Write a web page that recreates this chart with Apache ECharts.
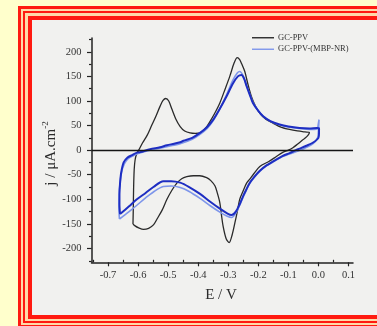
<!DOCTYPE html>
<html>
<head>
<meta charset="utf-8">
<script src="https://cdn.jsdelivr.net/npm/echarts@6/dist/echarts.min.js"></script>
<style>
html,body{margin:0;padding:0;background:#FFFFCC;overflow:hidden;}
#wrap{position:relative;width:377px;height:326px;overflow:hidden;}
.b{position:absolute;}
#c{position:absolute;left:0;top:0;width:377px;height:326px;}
</style>
</head>
<body>
<div id="wrap">
  <div class="b" style="left:18px;top:6px;width:400px;height:322px;background:#FF1A10"></div>
  <div class="b" style="left:21px;top:9px;width:400px;height:316px;background:#FFD9A8"></div>
  <div class="b" style="left:23px;top:11px;width:400px;height:312px;background:#FF1A10"></div>
  <div class="b" style="left:25px;top:13px;width:400px;height:308px;background:#FFD9A8"></div>
  <div class="b" style="left:27.5px;top:15.5px;width:400px;height:303px;background:#FF1A10"></div>
  <div class="b" style="left:31.5px;top:19.5px;width:400px;height:295px;background:#F1F1EF"></div>
  <div id="c"></div>
</div>
<script>
// ---- data (E / V, j / µA cm^-2) ----
const seriesNames = ['GC-PPV', 'GC-PPV-(MBP-NR)'];
const gcPpv = [
  [-0.617,-150],[-0.616,-120],[-0.615,-80],[-0.613,-40],[-0.61,-20],[-0.605,-8],[-0.598,0],
  [-0.585,15],[-0.57,30],[-0.555,50],[-0.54,70],[-0.527,89],[-0.517,101],[-0.508,105],
  [-0.498,100],[-0.488,84],[-0.475,64],[-0.46,48],[-0.445,39],[-0.427,35],[-0.41,34],
  [-0.394,35],[-0.375,45],[-0.361,58],[-0.345,75],[-0.328,96],[-0.31,125],[-0.295,150],
  [-0.28,178],[-0.27,188],[-0.262,184],[-0.255,175],[-0.245,160],[-0.235,135],[-0.223,109],
  [-0.21,90],[-0.195,75],[-0.175,63],[-0.151,55],[-0.125,47],[-0.096,42],[-0.07,39],
  [-0.045,37],[-0.03,36],[-0.035,30],[-0.045,24],[-0.052,21],[-0.07,12],[-0.085,5],
  [-0.1,0],[-0.12,-5],[-0.14,-13],[-0.165,-23],[-0.195,-33],[-0.215,-48],[-0.23,-60],
  [-0.239,-67],[-0.25,-82],[-0.262,-100],[-0.27,-125],[-0.278,-148],[-0.287,-172],
  [-0.297,-188],[-0.307,-180],[-0.317,-155],[-0.323,-130],[-0.328,-107],[-0.336,-88],
  [-0.344,-73],[-0.358,-62],[-0.372,-56],[-0.395,-52],[-0.416,-52],[-0.438,-54],
  [-0.455,-58],[-0.471,-67],[-0.488,-82],[-0.504,-100],[-0.52,-122],[-0.537,-140],
  [-0.549,-152],[-0.565,-159],[-0.582,-161],[-0.598,-158],[-0.61,-154],[-0.617,-150]
];
const mbpNrCycleLight = [
  [-0.662,-140],[-0.664,-115],[-0.663,-90],[-0.66,-67],[-0.655,-45],[-0.645,-27],[-0.632,-17],
  [-0.615,-11],[-0.6,-7],[-0.56,0],[-0.527,4],[-0.49,9],[-0.46,13],[-0.42,22],[-0.394,32],
  [-0.37,44],[-0.35,60],[-0.33,82],[-0.306,112],[-0.285,142],[-0.27,157],[-0.262,160],
  [-0.252,153],[-0.24,133],[-0.228,113],[-0.218,97],[-0.2,80],[-0.184,69],[-0.16,59],
  [-0.129,51],[-0.1,47],[-0.063,44],[-0.03,42],[-0.005,43],[0.0,55],[0.002,62],[0.0,40],
  [-0.003,25],[-0.02,12],[-0.045,4],[-0.07,-2],[-0.096,-8],[-0.12,-13],[-0.151,-24],
  [-0.173,-32],[-0.195,-43],[-0.21,-53],[-0.229,-68],[-0.24,-82],[-0.251,-96],[-0.262,-112],
  [-0.275,-128],[-0.289,-137],[-0.305,-134],[-0.328,-126],[-0.36,-113],[-0.394,-98],
  [-0.43,-84],[-0.46,-76],[-0.49,-73],[-0.516,-74],[-0.549,-85],[-0.575,-97],[-0.604,-112],
  [-0.63,-125],[-0.662,-140]
];
const mbpNrCycleDark = [
  [-0.66,-130],[-0.662,-110],[-0.662,-90],[-0.66,-67],[-0.656,-45],[-0.648,-25],[-0.635,-15],
  [-0.62,-10],[-0.604,-5],[-0.593,-4],[-0.56,2],[-0.527,6],[-0.504,10],[-0.48,13],[-0.46,16],
  [-0.449,19],[-0.42,25],[-0.394,35],[-0.37,47],[-0.35,62],[-0.33,82],[-0.306,109],
  [-0.285,135],[-0.268,150],[-0.256,153],[-0.247,145],[-0.239,130],[-0.228,112],[-0.218,96],
  [-0.2,80],[-0.184,69],[-0.16,59],[-0.129,52],[-0.1,48],[-0.063,45],[-0.03,44],[-0.005,45],
  [0.002,44],[0.002,35],[0.0,25],[-0.019,15],[-0.04,9],[-0.063,3],[-0.075,0],[-0.096,-6],
  [-0.12,-12],[-0.151,-23],[-0.173,-31],[-0.195,-42],[-0.21,-52],[-0.229,-67],[-0.24,-80],
  [-0.251,-94],[-0.262,-110],[-0.275,-125],[-0.289,-132],[-0.305,-128],[-0.328,-119],
  [-0.36,-105],[-0.394,-89],[-0.43,-75],[-0.46,-66],[-0.49,-63],[-0.516,-63],[-0.549,-75],
  [-0.575,-87],[-0.604,-100],[-0.63,-114],[-0.66,-130]
];
const xTickLabels = [-0.7,-0.6,-0.5,-0.4,-0.3,-0.2,-0.1,0.0,0.1];
const xMinorTicks = [-0.75,-0.65,-0.55,-0.45,-0.35,-0.25,-0.15,-0.05,0.05];
const yTickLabels = [-200,-150,-100,-50,0,50,100,150,200];
const yMinorTicks = [-225,-175,-125,-75,-25,25,75,125,175,225];
const xTitle = 'E / V';
const yTitle = 'j / μA.cm';
const yTitleSup = '-2';

// ---- chart ----
const serif = "'Liberation Serif','DejaVu Serif',serif";
const X_MIN = -0.755, X_MAX = 0.115, Y_MIN = -228, Y_MAX = 228;
const gridBox = {left: 91.5, right: 24, top: 38, bottom: 63.7};
const chart = echarts.init(document.getElementById('c'), null, {renderer: 'canvas'});

const option = {
  animation: false,
  backgroundColor: 'transparent',
  graphic: [
    {type: 'text', z: 50, x: 51, y: 153.5, rotation: Math.PI / 2,
      style: {text: '{a|' + yTitle + '}{b|' + yTitleSup + '}', align: 'center', verticalAlign: 'middle',
        rich: {a: {fontSize: 15, fontFamily: serif, fill: '#2b2b2b', lineHeight: 19},
               b: {fontSize: 9, fontFamily: serif, fill: '#2b2b2b', verticalAlign: 'top', lineHeight: 9}}}},
    {type: 'text', z: 50, x: 221, y: 295,
      style: {text: xTitle, fontSize: 15, fontFamily: serif, fill: '#2b2b2b', align: 'center', verticalAlign: 'middle'}}
  ],
  grid: [Object.assign({}, gridBox), Object.assign({}, gridBox)],
  legend: {
    data: seriesNames, orient: 'vertical', left: 252, top: 32,
    icon: 'rect', itemWidth: 22, itemHeight: 1.4, itemGap: 0, padding: 0,
    textStyle: {fontSize: 8.5, fontFamily: serif, color: '#333', lineHeight: 11.5, padding: [0, 0, 0, -1]}
  },
  xAxis: [
    {type: 'value', gridIndex: 0, min: X_MIN, max: X_MAX, position: 'bottom',
      splitLine: {show: false},
      axisLine: {onZero: false, lineStyle: {color: '#222', width: 1.5}},
      axisTick: {customValues: xTickLabels, length: 4, lineStyle: {color: '#222', width: 1.2}},
      axisLabel: {customValues: xTickLabels, margin: 7, fontSize: 10.5, fontFamily: serif, color: '#333',
        formatter: v => (Math.abs(v) < 1e-9 ? 0 : v).toFixed(1)}},
    {type: 'value', gridIndex: 1, min: X_MIN, max: X_MAX, position: 'bottom',
      splitLine: {show: false}, axisLine: {show: false, onZero: false}, axisLabel: {show: false},
      axisTick: {customValues: xMinorTicks, inside: true, length: 2.5, lineStyle: {color: '#222', width: 1.2}}}
  ],
  yAxis: [
    {type: 'value', gridIndex: 0, min: Y_MIN, max: Y_MAX, position: 'left',
      splitLine: {show: false},
      axisLine: {onZero: false, lineStyle: {color: '#222', width: 1.5}},
      axisTick: {customValues: yTickLabels, length: 4.5, lineStyle: {color: '#222', width: 1.2}},
      axisLabel: {customValues: yTickLabels, margin: 10, fontSize: 10.5, fontFamily: serif, color: '#333'}},
    {type: 'value', gridIndex: 1, min: Y_MIN, max: Y_MAX, position: 'left',
      splitLine: {show: false}, axisLine: {show: false, onZero: false}, axisLabel: {show: false},
      axisTick: {customValues: yMinorTicks, length: 2.5, lineStyle: {color: '#222', width: 1.2}}}
  ],
  series: [
    {name: seriesNames[0], type: 'line', data: gcPpv, xAxisIndex: 0, yAxisIndex: 0,
      symbol: 'none', smooth: 0.3, lineStyle: {color: '#2a2a2a', width: 1.3}, itemStyle: {color: '#2a2a2a'},
      markLine: {silent: true, symbol: ['none', 'none'], label: {show: false},
        lineStyle: {color: '#151515', width: 1.3, type: 'solid'}, data: [{yAxis: 0}]}},
    {name: seriesNames[1], type: 'line', data: mbpNrCycleLight, xAxisIndex: 0, yAxisIndex: 0,
      symbol: 'none', smooth: 0.3, lineStyle: {color: '#7d95ea', width: 1.6}, itemStyle: {color: '#7d95ea'}},
    {name: seriesNames[1], type: 'line', data: mbpNrCycleDark, xAxisIndex: 0, yAxisIndex: 0,
      symbol: 'none', smooth: 0.3, lineStyle: {color: '#1e2ec2', width: 2}, itemStyle: {color: '#1e2ec2'}}
  ]
};
chart.setOption(option);
</script>
</body>
</html>
